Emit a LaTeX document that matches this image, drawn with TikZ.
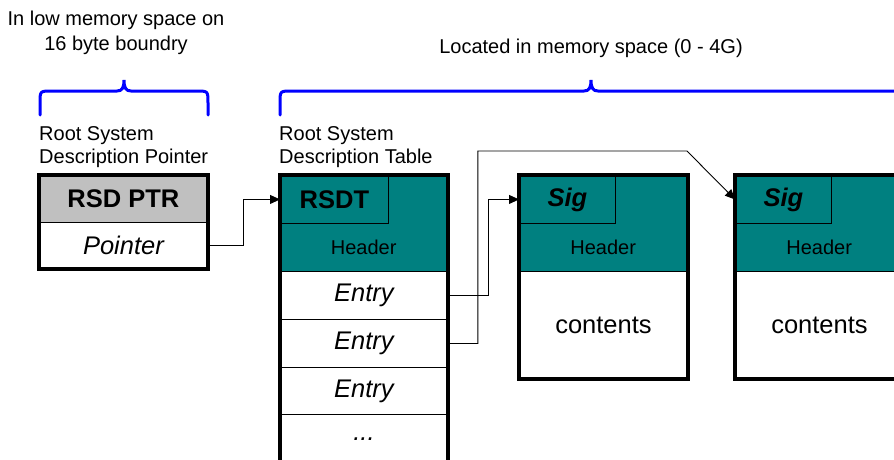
\documentclass[tikz,border=0pt]{standalone}
\usepackage{fontspec}
\setmainfont{Liberation Sans}
\usetikzlibrary{arrows.meta}
\definecolor{tealc}{HTML}{008080}
\definecolor{grayc}{HTML}{C0C0C0}
\definecolor{bracec}{HTML}{0000FF}
\begin{document}
\begin{tikzpicture}[x=1pt,y=-1pt,
  cell/.style={draw=black,line width=0.9pt,inner sep=0pt,anchor=north west,minimum width=#1},
  cell/.default=168pt,
  hdrcell/.style={inner sep=0pt,anchor=north west,minimum width=#1,font=\fontsize{20}{23}\selectfont},
  lbl/.style={inner sep=0pt,align=left,font=\fontsize{20}{23}\selectfont},
  big/.style={font=\fontsize{25.5}{28}\selectfont},
  outer/.style={draw=black,line width=3.2pt},
  conn/.style={draw=black,line width=0.9pt,-{Triangle[length=10pt,width=9pt]}},
  brace/.style={draw=bracec,line width=3pt,line cap=round}]
\clip (0,0) rectangle (894,460);
\fill[white] (0,0) rectangle (894,460);
% top texts
\node[inner sep=0pt,align=center,font=\fontsize{20}{25}\selectfont] (lowtxt) at (116,33) {In low memory space on\\16 byte boundry};
\node[inner sep=0pt,font=\fontsize{20}{23}\selectfont] (loctxt) at (591,48) {Located in memory space (0 - 4G)};
% braces
\draw[brace] (40,115) -- (40,103) .. controls (40,91) .. (52,91) -- (117,91)
  .. controls (122,91) and (124,88) .. (124,80) .. controls (124,88) and (126,91) .. (131,91)
  -- (196,91) .. controls (208,91) .. (208,103) -- (208,115);
\draw[brace] (280,115) -- (280,103) .. controls (280,91) .. (292,91) -- (584,91)
  .. controls (589,91) and (591,88) .. (591,80) .. controls (591,88) and (593,91) .. (598,91)
  -- (890,91) .. controls (902,91) .. (902,103) -- (902,115);
% labels
\node[lbl,anchor=north west] (ptrlbl) at (39,126) {Root System\\Description Pointer};
\node[lbl,anchor=north west] (rsdtlbl) at (279,126) {Root System\\Description Table};
% RSD PTR box
\node[cell=168pt,minimum height=47pt,fill=grayc,big] (ptrhead) at (39,175) {\bfseries RSD PTR};
\node[cell=168pt,minimum height=46pt,fill=white,big] (ptrbody) at (39,222) {\itshape Pointer};
\draw[outer] (ptrhead.north west) rectangle (ptrbody.south east);
% RSDT box
\fill[tealc] (280,175) rectangle (447,271);
\node[cell=108pt,minimum height=48pt,big] (rsdtsig) at (280,175) {\bfseries RSDT};
\node[hdrcell=167pt,minimum height=48pt] (rsdthdr) at (280,223) {Header};
\node[cell=167pt,minimum height=48pt,big] (entry1) at (280,271) {\itshape Entry};
\node[cell=167pt,minimum height=48pt,big] (entry2) at (280,319) {\itshape Entry};
\node[cell=167pt,minimum height=47pt,big] (entry3) at (280,367) {\itshape Entry};
\node[cell=167pt,minimum height=50pt,big] (entry4) at (280,414) {\itshape ...};
\draw[outer] (rsdtsig.north west) rectangle (entry4.south east);
% table 2
\fill[tealc] (519,175) rectangle (687,271);
\node[cell=96pt,minimum height=48pt,big] (sig2) at (519,175) {\bfseries\itshape Sig};
\node[hdrcell=168pt,minimum height=48pt] (hdr2) at (519,223) {Header};
\node[cell=168pt,minimum height=107pt,big,text depth=-6pt] (cont2) at (519,271) {contents};
\draw[outer] (sig2.north west) rectangle (cont2.south east);
% table 3
\fill[tealc] (735,175) rectangle (903,271);
\node[cell=96pt,minimum height=48pt,big] (sig3) at (735,175) {\bfseries\itshape Sig};
\node[hdrcell=168pt,minimum height=48pt] (hdr3) at (735,223) {Header};
\node[cell=168pt,minimum height=107pt,big,text depth=-6pt] (cont3) at (735,271) {contents};
\draw[outer] (sig3.north west) rectangle (cont3.south east);
% connectors
\draw[conn] (ptrbody.east) -- ++(36,0) |- (rsdtsig.west);
\draw[conn] (entry1.east) -- ++(41,0) |- (sig2.west);
\coordinate (bend) at (687,151);
\draw[conn] (entry2.east) -- ++(30,0) |- (bend) -- (sig3.west);
\end{tikzpicture}
\end{document}
